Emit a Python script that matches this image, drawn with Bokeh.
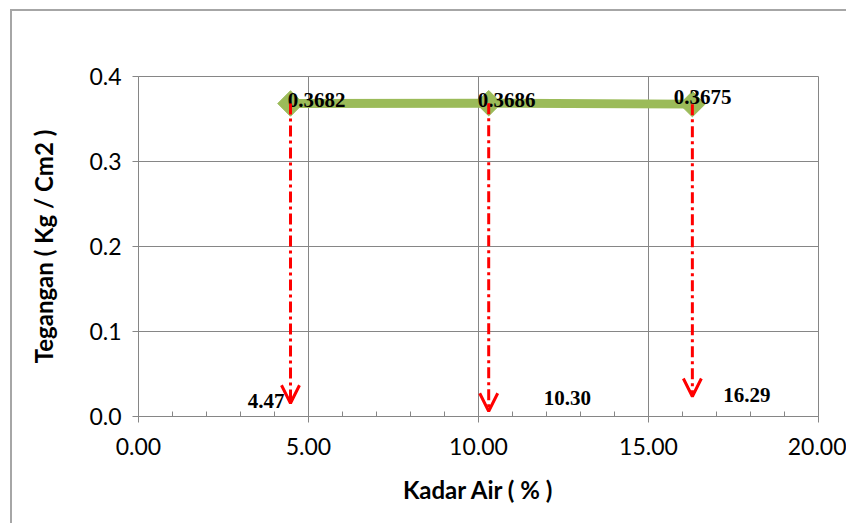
from bokeh.plotting import figure
from bokeh.models import Range1d, NumeralTickFormatter, FixedTicker, Arrow, OpenHead, ColumnDataSource
from bokeh.core.properties import value
from bokeh.embed import file_html
from bokeh.resources import INLINE

# ---- data ----
kadar_air = [4.47, 10.30, 16.29]
tegangan = [0.3682, 0.3686, 0.3675]
tegangan_labels = ["0.3682", "0.3686", "0.3675"]
kadar_labels = ["4.47", "10.30", "16.29"]
arrow_tip = [0.0156, 0.0062, 0.0235]
x_ticks = [0, 5, 10, 15, 20]
x_minor = list(range(0, 21))
y_ticks = [0.0, 0.1, 0.2, 0.3, 0.4]

# ---- label offsets (pixels) ----
top_dx = [-2.7, -10.9, -18.6]
top_dy = [-3.4, -3.1, -7.3]
bot_dx = [-42.7, 55.1, 30.8]
bot_dy = [-16.0, -18.3, -21.7]

GRAY = "#868686"
GREEN = "#9BBB59"

p = figure(width=836, height=514,
           x_range=Range1d(0, 20), y_range=Range1d(0, 0.4),
           output_backend="svg", toolbar_location=None,
           min_border_left=126, min_border_top=65,
           min_border_right=30, min_border_bottom=109)
p.styles = {"border-left": "2px solid #a6a6a6", "border-top": "2px solid #a6a6a6",
            "margin-left": "10px", "margin-top": "9px"}

p.background_fill_color = "white"
p.border_fill_color = "white"
p.outline_line_color = GRAY
p.outline_line_width = 1

# axes
p.xaxis.ticker = FixedTicker(ticks=x_ticks, minor_ticks=x_minor)
p.yaxis.ticker = FixedTicker(ticks=y_ticks)
p.xaxis.formatter = NumeralTickFormatter(format="0.00")
p.yaxis.formatter = NumeralTickFormatter(format="0.0")
for ax in (p.xaxis, p.yaxis):
    ax.axis_line_color = GRAY
    ax.major_tick_line_color = GRAY
    ax.minor_tick_line_color = GRAY
    ax.major_tick_out = 6
    ax.major_tick_in = 0
    ax.major_label_text_font = "Lato"
    ax.major_label_text_font_size = "23px"
    ax.major_label_text_color = "#000000"
    ax.axis_label_text_font = "Lato"
    ax.axis_label_text_font_style = "bold"
    ax.axis_label_text_font_size = "24px"
    ax.axis_label_text_color = "#000000"
p.xaxis.minor_tick_in = 5
p.xaxis.minor_tick_out = 0
p.yaxis.minor_tick_line_color = None
p.xaxis.major_label_standoff = 15
p.yaxis.major_label_standoff = 11
p.xaxis.axis_label = "Kadar Air ( % )"
p.yaxis.axis_label = "Tegangan ( Kg / Cm2 )"
p.xaxis.axis_label_standoff = 17
p.yaxis.axis_label_standoff = 28

# grid
p.xgrid.ticker = FixedTicker(ticks=x_ticks)
p.ygrid.ticker = FixedTicker(ticks=y_ticks)
p.xgrid.grid_line_color = GRAY
p.ygrid.grid_line_color = GRAY
p.xgrid.grid_line_width = 1
p.ygrid.grid_line_width = 1

# red dash-dot arrows
arr_src = ColumnDataSource(dict(x0=kadar_air, y0=tegangan, x1=kadar_air, y1=arrow_tip))
p.add_layout(Arrow(source=arr_src, x_start="x0", y_start="y0", x_end="x1", y_end="y1",
                   line_color="#FF0000", line_width=3, line_dash="11 4 3 4",
                   end=OpenHead(size=18, line_color="#FF0000", line_width=3)))

# green series
src = ColumnDataSource(dict(x=kadar_air, y=tegangan, lab=tegangan_labels,
                            klab=kadar_labels, tdx=top_dx, tdy=top_dy,
                            bdx=bot_dx, bdy=bot_dy, base=[0, 0, 0]))
p.line("x", "y", source=src, line_color=GREEN, line_width=9)
p.scatter("x", "y", source=src, marker="square", angle=0.785398, size=18,
          fill_color=GREEN, line_color=GREEN)

# value labels
p.text("x", "y", text="lab", source=src, x_offset="tdx", y_offset="tdy",
       text_font=value("Liberation Serif"), text_font_style="bold",
       text_font_size="21px", text_color="#000000",
       text_align="left", text_baseline="alphabetic")
p.text("x", "base", text="klab", source=src, x_offset="bdx", y_offset="bdy",
       text_font=value("Liberation Serif"), text_font_style="bold",
       text_font_size="21px", text_color="#000000",
       text_align="left", text_baseline="alphabetic")

open("out.html", "w").write(file_html(p, INLINE))
